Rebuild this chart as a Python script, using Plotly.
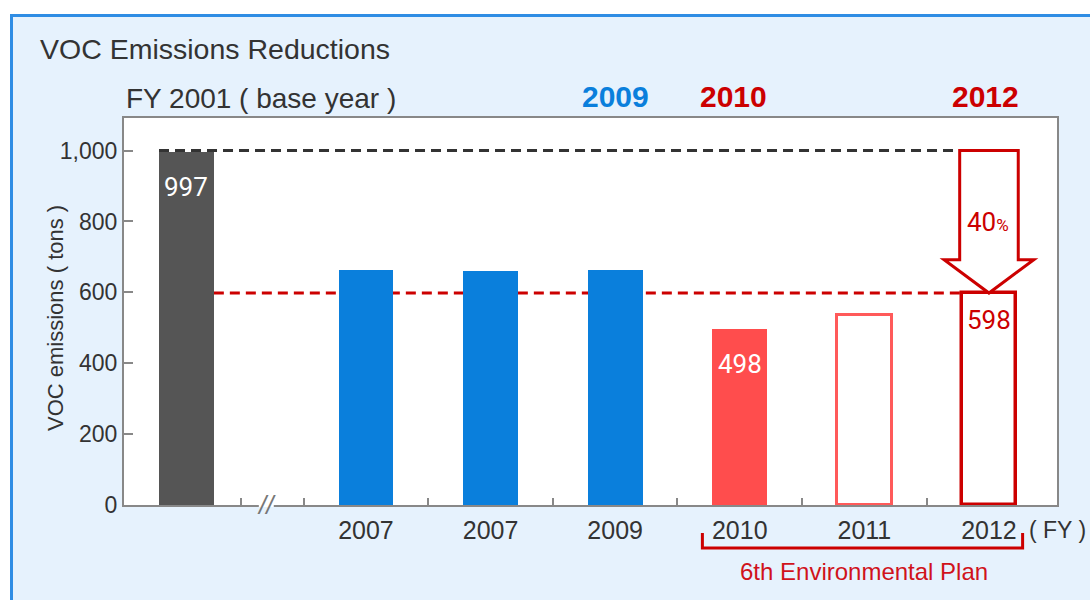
import plotly.graph_objects as go

# ---- data ----
categories = ["2001", "2007", "2007", "2009", "2010", "2011", "2012"]
emissions = [997, 663, 660, 663, 498, 535, 598]
value_labels = ["997", "", "", "", "498", "", "598"]
base_value = 1000
target_value = 598
reduction_label = "40"
tick_labels = ["2007", "2007", "2009", "2010", "2011", "2012"]
header_years = ["2009", "2010", "2012"]

# ---- layout helpers ----
W, H = 1090, 600
L, R, T, B = 124, 33, 118, 95
pw, ph = W - L - R, H - T - B
def px_x(p):
    return (p - L) / pw
def px_y(p):
    return (H - B - p) / ph

x_pos = [-0.441, 1, 2, 3, 4, 5, 6]
bar_w = 0.44
BLUE = "#0a7fdc"
RED = "#cc0000"
fills = ["#555555", BLUE, BLUE, BLUE, "#ff4d4d", "white", "white"]
lines = ["#555555", BLUE, BLUE, BLUE, "#ff4d4d", "#ff5a5a", RED]
lwidths = [0, 0, 0, 0, 0, 3, 3.5]
FONT = "Liberation Sans, Arial, sans-serif"
NARROW = "Liberation Sans Narrow, Arial Narrow, Roboto, sans-serif"
TXT = "#333333"

fig = go.Figure()
fig.add_trace(go.Bar(
    x=x_pos, y=emissions, width=bar_w,
    marker=dict(color=fills, line=dict(color=lines, width=lwidths)),
    hoverinfo="skip", showlegend=False,
))

shapes = []
# outer frame pieces
shapes.append(dict(type="rect", xref="paper", yref="paper", x0=px_x(-5), x1=px_x(10), y0=px_y(610), y1=px_y(-5),
                   fillcolor="white", line=dict(width=0), layer="below"))
shapes.append(dict(type="rect", xref="paper", yref="paper", x0=px_x(-5), x1=px_x(1095), y0=px_y(14), y1=px_y(-5),
                   fillcolor="white", line=dict(width=0), layer="below"))
shapes.append(dict(type="line", xref="paper", yref="paper", x0=px_x(11.5), x1=px_x(11.5), y0=px_y(14), y1=px_y(605),
                   line=dict(color="#2f8de4", width=3)))
shapes.append(dict(type="line", xref="paper", yref="paper", x0=px_x(10), x1=px_x(1095), y0=px_y(15.5), y1=px_y(15.5),
                   line=dict(color="#2f8de4", width=3)))

# dashed reference lines
x_base = x_pos[0]
x_tgt = x_pos[-1]
shapes.append(dict(type="line", xref="x", yref="y", x0=x_base - bar_w / 2, x1=x_tgt + bar_w / 2,
                   y0=base_value, y1=base_value, line=dict(color="#333333", width=3, dash="10px,6px"), layer="below"))
shapes.append(dict(type="line", xref="x", yref="y", x0=x_base + bar_w / 2, x1=x_tgt - bar_w / 2,
                   y0=target_value, y1=target_value, line=dict(color=RED, width=3, dash="10px,6px"), layer="below"))

# reduction arrow
sw, hw = 0.235, 0.36
h = target_value + 0.234 * (base_value - target_value)
path = (f"M {x_tgt - sw},{base_value} L {x_tgt + sw},{base_value} L {x_tgt + sw},{h} "
        f"L {x_tgt + hw},{h} L {x_tgt},{target_value} L {x_tgt - hw},{h} L {x_tgt - sw},{h} Z")
shapes.append(dict(type="path", xref="x", yref="y", path=path, fillcolor="white",
                   line=dict(color=RED, width=3), layer="above"))

# axis break gap
shapes.append(dict(type="rect", xref="x", yref="paper", x0=0.14, x1=0.26, y0=px_y(507), y1=px_y(503),
                   fillcolor="white", line=dict(width=0), layer="above"))

# bracket for 6th environmental plan
yb0, yb1 = px_y(533), px_y(548)
xa, xb = 4 - 0.3, 6 + 0.27
shapes.append(dict(type="path", xref="x", yref="paper",
                   path=f"M {xa},{yb0} L {xa},{yb1} L {xb},{yb1} L {xb},{yb0}",
                   line=dict(color=RED, width=3)))

ann = []
ann.append(dict(text="VOC Emissions Reductions", xref="paper", yref="paper", x=px_x(38), y=px_y(49),
                xanchor="left", yanchor="middle", showarrow=False, font=dict(family=FONT, size=28.5, color=TXT)))
ann.append(dict(text="FY 2001 ( base year )", xref="paper", yref="paper", x=px_x(124), y=px_y(98),
                xanchor="left", yanchor="middle", showarrow=False, font=dict(family=FONT, size=28, color=TXT)))
hdr_colors = [BLUE, RED, RED]
hdr_x = [3, 4 - 0.05, 6 - 0.03]
for t, c, xx in zip(header_years, hdr_colors, hdr_x):
    ann.append(dict(text=f"<b>{t}</b>", xref="x", yref="paper", x=xx, y=px_y(97), xanchor="center",
                    yanchor="middle", showarrow=False, font=dict(family=FONT, size=30, color=c)))
# value labels inside bars
lbl_colors = ["white", "", "", "", "white", "", RED]
lbl_shift = [-35, 0, 0, 0, -35, 0, -27]
for xx, v, t, c, s in zip(x_pos, emissions, value_labels, lbl_colors, lbl_shift):
    if t:
        ann.append(dict(text=t, xref="x", yref="y", x=xx, y=v, yshift=s, xanchor="center", yanchor="middle",
                        showarrow=False, font=dict(family=NARROW, size=26, color=c)))
ann.append(dict(text=f"{reduction_label}<span style='font-size:17px'>%</span>", xref="x", yref="y",
                x=x_tgt - 0.01, y=(base_value + target_value) / 2, xanchor="center", yanchor="middle",
                showarrow=False, font=dict(family=NARROW, size=26, color=RED)))
ann.append(dict(text="VOC emissions ( tons )", xref="paper", yref="paper", x=px_x(55), y=px_y(318),
                textangle=-90, xanchor="center", yanchor="middle", showarrow=False,
                font=dict(family=FONT, size=22, color=TXT)))
ann.append(dict(text="( FY )", xref="paper", yref="paper", x=px_x(1057), y=px_y(530),
                xanchor="center", yanchor="middle", showarrow=False, font=dict(family=FONT, size=23, color=TXT)))
ann.append(dict(text="6th Environmental Plan", xref="x", yref="paper", x=5, y=px_y(571),
                xanchor="center", yanchor="middle", showarrow=False, font=dict(family=FONT, size=24, color="#d0121b")))
ann.append(dict(text="<i>//</i>", xref="x", yref="paper", x=0.2, y=px_y(505), xanchor="center", yanchor="middle",
                showarrow=False, font=dict(family=FONT, size=26, color="#777777")))

fig.update_layout(
    width=W, height=H,
    margin=dict(l=L, r=R, t=T, b=B, pad=0),
    paper_bgcolor="#e6f2fd", plot_bgcolor="white",
    shapes=shapes, annotations=ann, bargap=0,
    xaxis=dict(range=[-0.942, 6.546], tickmode="array", tickvals=x_pos[1:], ticktext=tick_labels,
               ticks="", showgrid=False, zeroline=False, showline=True, linecolor="#888888", linewidth=2,
               mirror=True, tickfont=dict(family=FONT, size=25, color=TXT), ticklabelstandoff=2,
               minor=dict(tickmode="array", tickvals=[0, 0.5, 1.5, 2.5, 3.5, 4.5, 5.5], ticks="inside",
                          ticklen=7, tickwidth=2, tickcolor="#888888", showgrid=False)),
    yaxis=dict(range=[0, 1092], tickmode="array", tickvals=[0, 200, 400, 600, 800, 1000], tickformat=",d",
               ticks="inside", ticklen=9, tickwidth=2, tickcolor="#888888", showgrid=False, zeroline=False,
               showline=True, linecolor="#888888", linewidth=2, mirror=True,
               tickfont=dict(family=FONT, size=23, color=TXT)),
)
fig.write_html("out.html", config={"displayModeBar": False},
               post_script="document.body.style.margin='0px';document.body.style.overflow='hidden';")
